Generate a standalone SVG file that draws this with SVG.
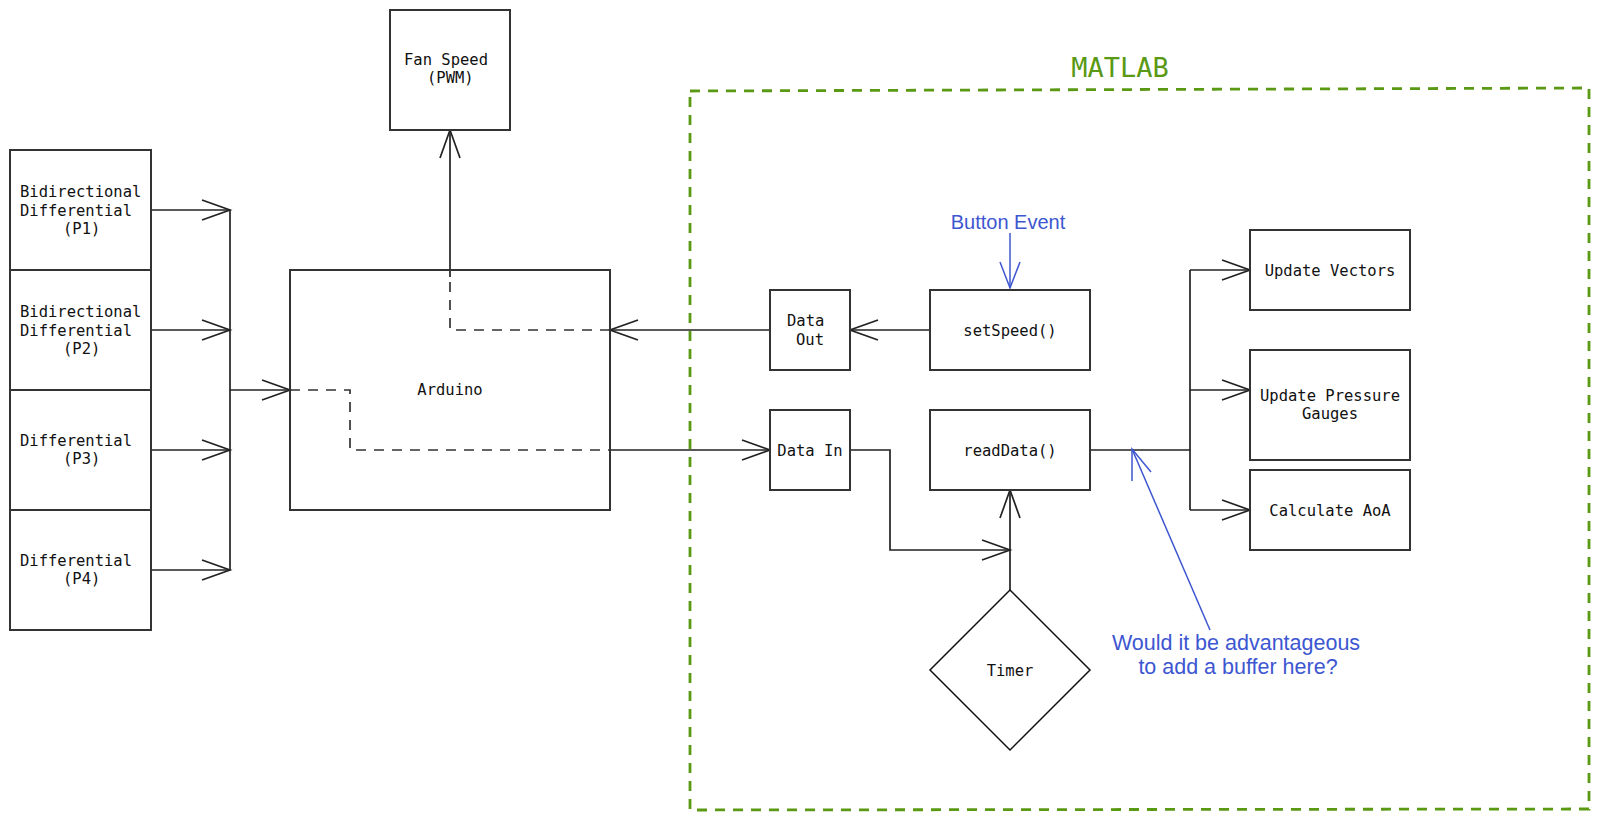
<svg xmlns="http://www.w3.org/2000/svg" width="1600" height="820" viewBox="0 0 1600 820">
<defs>
<style>
.box{fill:#fff;stroke:#333;stroke-width:2}
.lbl{font-family:"DejaVu Sans Mono","Liberation Mono",monospace;font-size:15.5px;fill:#111}
.mid{text-anchor:middle}
.con{fill:none;stroke:#222;stroke-width:1.7}
.dash{fill:none;stroke:#333;stroke-width:1.7;stroke-dasharray:10 8}
.note{font-family:"Liberation Sans",Arial,sans-serif;fill:#3d56d1}
.blue{fill:none;stroke:#3d56d1;stroke-width:1.5}
</style>
<marker id="arr" markerUnits="userSpaceOnUse" orient="auto" markerWidth="40" markerHeight="30" refX="0" refY="0" viewBox="-30 -15 40 30" overflow="visible">
<path d="M-28,-10 L0,0 L-28,10" fill="none" stroke="#222" stroke-width="1.7"/>
</marker>
<marker id="arrb" markerUnits="userSpaceOnUse" orient="auto" markerWidth="40" markerHeight="30" refX="0" refY="0" viewBox="-30 -15 40 30" overflow="visible">
<path d="M-26,-10 L0,0 L-26,10" fill="none" stroke="#3d56d1" stroke-width="1.5"/>
</marker>
</defs>
<rect width="1600" height="820" fill="#fff"/>

<g id="matlab">
<path d="M690,91 L1589,88 L1589,809 L690,810 Z" fill="none" stroke="#5a9913" stroke-width="2.8" stroke-dasharray="10 8"/>
<text x="1120" y="77" text-anchor="middle" font-family="DejaVu Sans Mono,monospace" font-size="27" fill="#5a9913">MATLAB</text>
</g>

<g id="connectors">
<path class="con" d="M151,210 H230" marker-end="url(#arr)"/>
<path class="con" d="M151,330 H230" marker-end="url(#arr)"/>
<path class="con" d="M151,450 H230" marker-end="url(#arr)"/>
<path class="con" d="M151,570 H230" marker-end="url(#arr)"/>
<path class="con" d="M230,210 V570"/>
<path class="con" d="M230,390 H290" marker-end="url(#arr)"/>
<path class="dash" d="M290,390 H350 V450 H610"/>
<path class="con" d="M610,450 H770" marker-end="url(#arr)"/>
<path class="con" d="M770,330 H610" marker-end="url(#arr)"/>
<path class="dash" d="M610,330 H450 V277"/>
<path class="con" d="M450,277 V130" marker-end="url(#arr)"/>
<path class="con" d="M930,330 H850" marker-end="url(#arr)"/>
<path class="con" d="M850,450 H890 V550 H1010" marker-end="url(#arr)"/>
<path class="con" d="M1010,590 V490" marker-end="url(#arr)"/>
<path class="con" d="M1090,450 H1190"/>
<path class="con" d="M1190,270 V510"/>
<path class="con" d="M1190,270 H1250" marker-end="url(#arr)"/>
<path class="con" d="M1190,390 H1250" marker-end="url(#arr)"/>
<path class="con" d="M1190,510 H1250" marker-end="url(#arr)"/>
<path class="blue" d="M1010,233 V288" marker-end="url(#arrb)"/>
<path class="blue" d="M1210,630 L1132,449"/>
<path class="blue" d="M1132,481 L1132,449 L1151,472"/>
</g>

<g id="p1"><rect class="box" x="10" y="150" width="141" height="120"/>
<text class="lbl"><tspan x="20" y="197">Bidirectional</tspan><tspan x="20" y="216">Differential</tspan><tspan x="63" y="234">(P1)</tspan></text></g>
<g id="p2"><rect class="box" x="10" y="270" width="141" height="120"/>
<text class="lbl"><tspan x="20" y="317">Bidirectional</tspan><tspan x="20" y="336">Differential</tspan><tspan x="63" y="354">(P2)</tspan></text></g>
<g id="p3"><rect class="box" x="10" y="390" width="141" height="120"/>
<text class="lbl"><tspan x="20" y="446">Differential</tspan><tspan x="63" y="464">(P3)</tspan></text></g>
<g id="p4"><rect class="box" x="10" y="510" width="141" height="120"/>
<text class="lbl"><tspan x="20" y="566">Differential</tspan><tspan x="63" y="584">(P4)</tspan></text></g>

<g id="fan"><rect class="box" x="390" y="10" width="120" height="120"/>
<text class="lbl"><tspan x="404" y="65">Fan Speed</tspan><tspan x="427" y="83">(PWM)</tspan></text></g>

<g id="arduino"><rect class="box" x="290" y="270" width="320" height="240" fill="none" style="fill:none"/>
<text class="lbl mid" x="450" y="395">Arduino</text></g>

<g id="dataout"><rect class="box" x="770" y="290" width="80" height="80"/>
<text class="lbl"><tspan x="787" y="326">Data</tspan><tspan x="796" y="345">Out</tspan></text></g>
<g id="datain"><rect class="box" x="770" y="410" width="80" height="80"/>
<text class="lbl mid" x="810" y="456">Data In</text></g>
<g id="setspeed"><rect class="box" x="930" y="290" width="160" height="80"/>
<text class="lbl mid" x="1010" y="336">setSpeed()</text></g>
<g id="readdata"><rect class="box" x="930" y="410" width="160" height="80"/>
<text class="lbl mid" x="1010" y="456">readData()</text></g>
<g id="vectors"><rect class="box" x="1250" y="230" width="160" height="80"/>
<text class="lbl mid" x="1330" y="276">Update Vectors</text></g>
<g id="gauges"><rect class="box" x="1250" y="350" width="160" height="110"/>
<text class="lbl mid"><tspan x="1330" y="401">Update Pressure</tspan><tspan x="1330" y="419">Gauges</tspan></text></g>
<g id="aoa"><rect class="box" x="1250" y="470" width="160" height="80"/>
<text class="lbl mid" x="1330" y="516">Calculate AoA</text></g>
<g id="timer"><path d="M1010,590 L1090,670 L1010,750 L930,670 Z" fill="#fff" stroke="#111" stroke-width="1.5"/>
<text class="lbl mid" x="1010" y="676">Timer</text></g>

<g id="notes">
<text class="note" x="1008" y="229" font-size="20" text-anchor="middle">Button Event</text>
<text class="note" font-size="21.5" text-anchor="middle"><tspan x="1236" y="650">Would it be advantageous</tspan><tspan x="1238" y="674">to add a buffer here?</tspan></text>
</g>
</svg>
